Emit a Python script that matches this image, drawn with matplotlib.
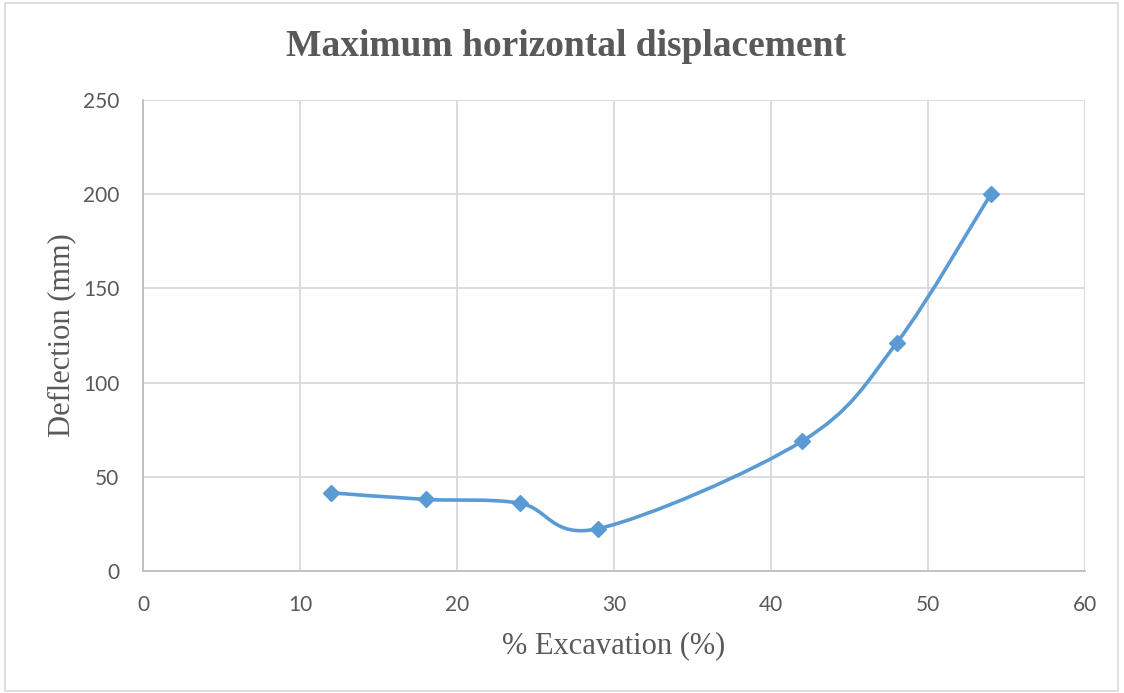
import numpy as np
import matplotlib
matplotlib.use("Agg")
import matplotlib.pyplot as plt
from matplotlib.path import Path
from matplotlib.patches import PathPatch, Rectangle

# datos
excavacion = [12, 18, 24, 29, 42, 48, 54]
deflexion = [41.5, 38, 36, 22.5, 69, 121, 200]
xticks = [0, 10, 20, 30, 40, 50, 60]
yticks = [0, 50, 100, 150, 200, 250]

AZUL = "#5B9BD5"
GRIS = "#595959"
SERIF = "Liberation Serif"
SANS = "Lato"


def curva_suave(x, y):
    # curva tipo Excel: Bézier cúbica con puntos de control Catmull-Rom
    p = np.column_stack([x, y]).astype(float)
    ext = np.vstack([p[0], p, p[-1]])
    verts = [tuple(p[0])]
    codes = [Path.MOVETO]
    for i in range(len(p) - 1):
        p0, p1, p2, p3 = ext[i], ext[i + 1], ext[i + 2], ext[i + 3]
        c1 = p1 + (p2 - p0) / 6
        c2 = p2 - (p3 - p1) / 6
        verts += [tuple(c1), tuple(c2), tuple(p2)]
        codes += [Path.CURVE4] * 3
    return Path(verts, codes)


fig = plt.figure(figsize=(11.24, 6.93), dpi=100)
fig.patches.append(Rectangle((5 / 1124, 2 / 693), 1113 / 1124, 688 / 693,
                             transform=fig.transFigure, fill=False,
                             edgecolor="#d9d9d9", linewidth=1.2))
ax = fig.add_axes([143 / 1124, 1 - 571 / 693, 942 / 1124, 471 / 693])

ax.add_patch(PathPatch(curva_suave(excavacion, deflexion), fill=False,
                       edgecolor=AZUL, linewidth=2.6, capstyle="round",
                       joinstyle="round", zorder=3))
ax.plot(excavacion, deflexion, linestyle="none", marker="D", markersize=8.5,
        color=AZUL, zorder=4)

ax.set_xlim(0, 60)
ax.set_ylim(0, 250)
ax.set_xticks(xticks)
ax.set_yticks(yticks)
ax.grid(True, color="#d9d9d9", linewidth=1.3)
ax.set_axisbelow(True)
for lado in ["top", "right"]:
    ax.spines[lado].set_visible(False)
for lado in ["left", "bottom"]:
    ax.spines[lado].set_color("#bfbfbf")
    ax.spines[lado].set_linewidth(1.3)
ax.tick_params(length=0, pad=17, labelsize=15, labelcolor=GRIS)
for t in ax.get_xticklabels() + ax.get_yticklabels():
    t.set_fontfamily(SANS)

ax.set_xlabel("% Excavation (%)", fontfamily=SERIF, fontsize=22, color=GRIS,
              labelpad=12)
ax.set_ylabel("Deflection (mm)", fontfamily=SERIF, fontsize=22, color=GRIS,
              labelpad=5)
fig.text(566 / 1124, 1 - 47 / 693, "Maximum horizontal displacement",
         fontfamily=SERIF, fontweight="bold", fontsize=27, color=GRIS,
         ha="center", va="center")

fig.savefig("out.png", dpi=100)
